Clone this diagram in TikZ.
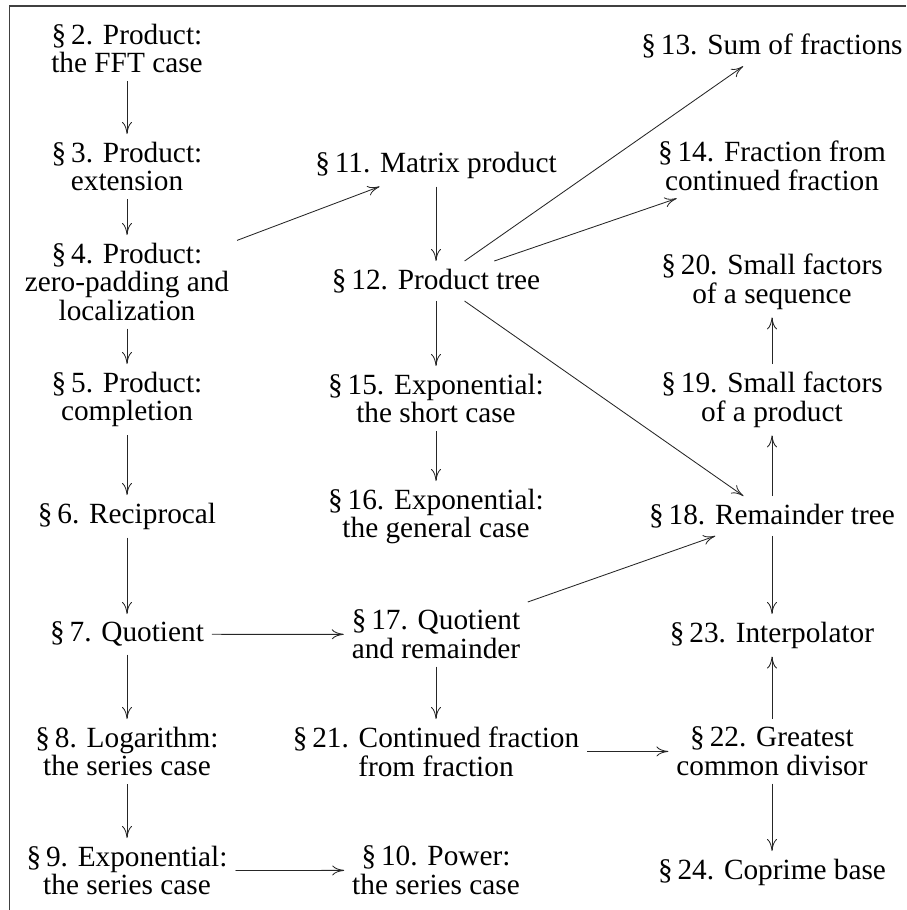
\documentclass[tikz,border=0pt]{standalone}
\usepackage{fontspec}
\setmainfont{Liberation Serif}
\usetikzlibrary{arrows.meta}
\begin{document}
\begin{tikzpicture}[x=1pt,y=-1pt,
  sec/.style={align=center, anchor=north, inner sep=8pt, outer sep=0pt,
    font={\fontsize{29.3}{28.5}\selectfont\lineskiplimit=-30pt}},
  link/.style={-{To[length=12pt,width=10pt]}, line width=0.85pt, draw=black!85},
  frameline/.style={line width=1.2pt, draw=black!75}]
\useasboundingbox (0,0) rectangle (906,910);
\draw[frameline] (9.8,910) -- (9.8,6) -- (906,6);
% column 1
\node[sec] (n2) at (127,16) {\S\,2. Product:\\the FFT case};
\node[sec] (n3) at (127,134) {\S\,3. Product:\\extension};
\node[sec] (n4) at (127,235) {\S\,4. Product:\\zero-padding and\\localization};
\node[sec] (n5) at (127,364) {\S\,5. Product:\\completion};
\node[sec] (n6) at (127,495) {\S\,6. Reciprocal};
\node[sec] (n7) at (127,614) {\S\,7. Quotient};
\node[sec] (n8) at (127,719) {\S\,8. Logarithm:\\the series case};
\node[sec] (n9) at (127,838) {\S\,9. Exponential:\\the series case};
% column 2
\node[sec] (n11) at (436,144) {\S\,11. Matrix product};
\node[sec] (n12) at (436,261) {\S\,12. Product tree};
\node[sec] (n15) at (436,366) {\S\,15. Exponential:\\the short case};
\node[sec] (n16) at (436,481) {\S\,16. Exponential:\\the general case};
\node[sec] (n17) at (436,602) {\S\,17. Quotient\\and remainder};
\node[sec] (n21) at (436,719) {\S\,21. Continued fraction\\from fraction};
\node[sec] (n10) at (436,838) {\S\,10. Power:\\the series case};
% column 3
\node[sec] (n13) at (772,26) {\S\,13. Sum of fractions};
\node[sec] (n14) at (772,133) {\S\,14. Fraction from\\continued fraction};
\node[sec] (n20) at (772,246) {\S\,20. Small factors\\of a sequence};
\node[sec] (n19) at (772,364) {\S\,19. Small factors\\of a product};
\node[sec] (n18) at (772,496) {\S\,18. Remainder tree};
\node[sec] (n23) at (772,614) {\S\,23. Interpolator};
\node[sec] (n22) at (772,719) {\S\,22. Greatest\\common divisor};
\node[sec] (n24) at (772,851) {\S\,24. Coprime base};
% connectors
\draw[link] (n2) -- (n3);
\draw[link] (n3) -- (n4);
\draw[link] (n4) -- (n5);
\draw[link] (n5) -- (n6);
\draw[link] (n6) -- (n7);
\draw[link] (n7) -- (n8);
\draw[link] (n8) -- (n9);
\draw[link] (n9) -- (n10);
\draw[link] (n7) -- (n17);
\draw[link] (n4) -- (n11);
\draw[link] (n11) -- (n12);
\draw[link] (n12) -- (n13);
\draw[link] (n12) -- (n14);
\draw[link] (n12) -- (n15);
\draw[link] (n12) -- (n18);
\draw[link] (n15) -- (n16);
\draw[link] (n17) -- (n18);
\draw[link] (n17) -- (n21);
\draw[link] (n21) -- (n22);
\draw[link] (n22) -- (n23);
\draw[link] (n18) -- (n23);
\draw[link] (n18) -- (n19);
\draw[link] (n19) -- (n20);
\draw[link] (n22) -- (n24);
\end{tikzpicture}
\end{document}
